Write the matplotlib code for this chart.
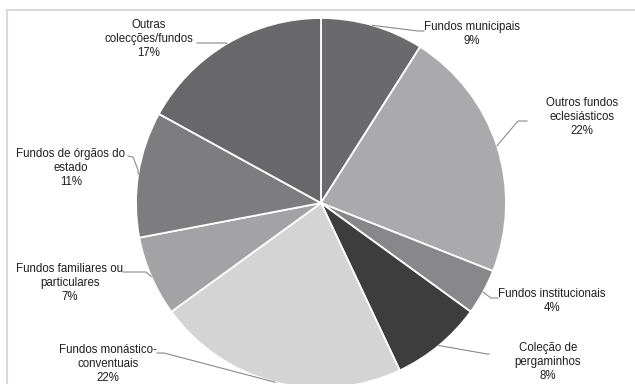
import numpy as np
import matplotlib.pyplot as plt
from matplotlib.patches import Rectangle

plt.rcParams['font.family'] = ['Liberation Sans', 'DejaVu Sans']

labels = ['Fundos municipais', 'Outros fundos\neclesiásticos', 'Fundos institucionais',
          'Coleção de\npergaminhos', 'Fundos monástico-\nconventuais',
          'Fundos familiares ou\nparticulares', 'Fundos de órgãos do\nestado',
          'Outras\ncolecções/fundos']
shares = [9, 22, 4, 8, 22, 7, 11, 17]
colors = ['#6a6a6c', '#aaaaad', '#88888b', '#3d3d3d', '#d4d4d5', '#a3a3a5', '#7d7d80', '#68686a']

W, H = 635, 384
# label block centres (pixels, y from top) and leader elbows
text_pos = [(472, 34), (582, 117), (552, 301), (548, 362), (108, 364), (70, 283), (71, 168), (149, 39)]
elbows = [[(418, 31), (424, 31)],
          [(518, 121), (527, 121)],
          [(491, 298), (498, 298)],
          [(487, 354), (489, 354)],
          [(164, 353), (157, 353)],
          [(146, 272), (123, 272)],
          [(138, 170), (133, 157), (128, 156)],
          [(226, 43), (197, 43)]]

fig = plt.figure(figsize=(6.35, 3.84), dpi=100)
ax = fig.add_axes([0, 0, 1, 1])

cx, cy, R = 321, 203, 185
wedges, _ = ax.pie(shares, colors=colors, startangle=90, counterclock=False,
                   center=(cx, H - cy), radius=R, frame=True,
                   wedgeprops=dict(edgecolor='white', linewidth=1.3))
ax.set_xlim(0, W)
ax.set_ylim(0, H)
ax.set_aspect('equal')
ax.axis('off')

ax.add_patch(Rectangle((7, -20), 700, H - 10 + 20, fill=False, edgecolor='#d9d9d9', linewidth=1.5, zorder=0))

for w, lab, s, (tx, ty), el in zip(wedges, labels, shares, text_pos, elbows):
    ang = np.deg2rad((w.theta1 + w.theta2) / 2)
    x0 = cx + R * np.cos(ang)
    y0 = (H - cy) + R * np.sin(ang)
    xs = [x0] + [p[0] for p in el]
    ys = [y0] + [H - p[1] for p in el]
    ax.plot(xs, ys, color='#8a8a8a', linewidth=0.8)
    ax.text(tx, H - ty, f'{lab}\n{s}%', ha='center', va='center', fontsize=8.3,
            color='#1e1e1e', linespacing=1.25)

fig.savefig('out.png', dpi=100)
